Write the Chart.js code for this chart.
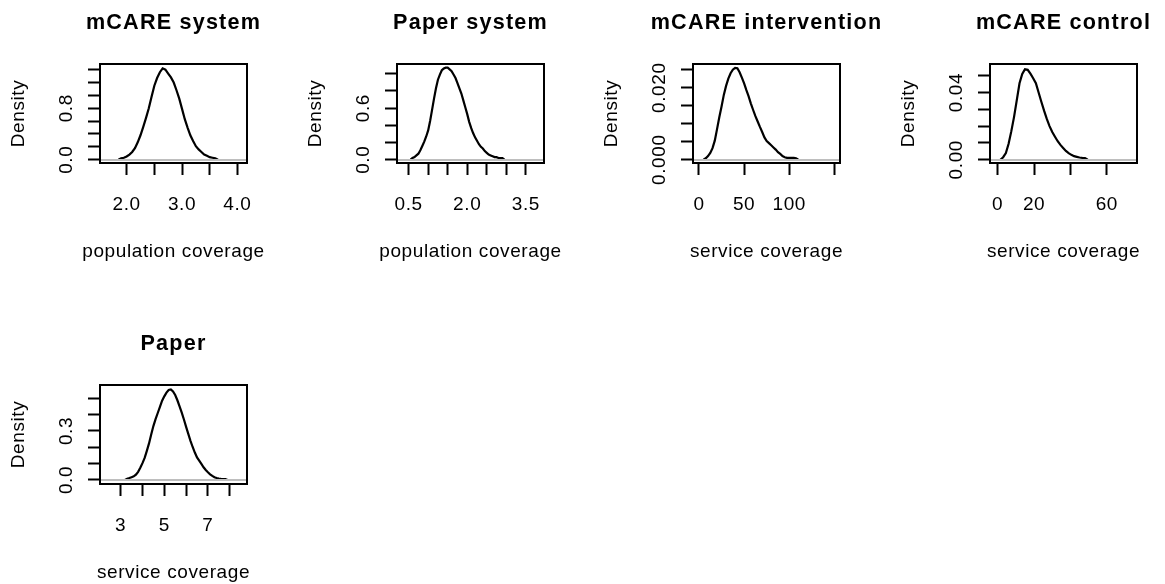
<!DOCTYPE html>
<html>
<head>
<meta charset="utf-8">
<script src="https://cdn.jsdelivr.net/npm/chart.js@4.4.1/dist/chart.umd.min.js"></script>
<style>
  html, body { margin: 0; padding: 0; background: #fff; }
  body { width: 1165px; height: 584px; overflow: hidden; position: relative; }
  .panel { position: absolute; width: 297px; height: 290px; }
</style>
</head>
<body>
<div class="panel" style="left:0px;top:0px"><canvas id="p1"></canvas></div>
<div class="panel" style="left:297px;top:0px"><canvas id="p2"></canvas></div>
<div class="panel" style="left:593px;top:0px"><canvas id="p3"></canvas></div>
<div class="panel" style="left:890px;top:0px"><canvas id="p4"></canvas></div>
<div class="panel" style="left:0px;top:321px"><canvas id="p5"></canvas></div>
<script>
// panel titles and axis titles
const titles = ["mCARE system", "Paper system", "mCARE intervention", "mCARE control", "Paper"];
const xTitles = ["population coverage", "population coverage", "service coverage", "service coverage", "service coverage"];
const yTitle = "Density";

// mCARE system (population coverage)
const sysMcareX = [1.85, 1.90, 1.95, 2.00, 2.05, 2.10, 2.15, 2.20, 2.25, 2.30, 2.35, 2.40, 2.45, 2.50, 2.55, 2.60, 2.65, 2.70, 2.75,
                   2.80, 2.85, 2.90, 2.95, 3.00, 3.05, 3.10, 3.15, 3.20, 3.25, 3.30, 3.35, 3.40, 3.45, 3.50, 3.55, 3.60, 3.65];
const sysMcareY = [0.00, 0.02, 0.03, 0.05, 0.08, 0.12, 0.18, 0.27, 0.38, 0.51, 0.65, 0.80, 0.98, 1.15, 1.27, 1.36, 1.42, 1.40, 1.34,
                   1.28, 1.20, 1.08, 0.95, 0.79, 0.63, 0.50, 0.38, 0.29, 0.21, 0.16, 0.12, 0.08, 0.06, 0.04, 0.03, 0.02, 0.00];

// Paper system (population coverage)
const sysPaperX = [0.55, 0.60, 0.65, 0.70, 0.75, 0.80, 0.85, 0.90, 0.95, 1.00, 1.05, 1.10, 1.15, 1.20, 1.25, 1.30, 1.35,
                   1.40, 1.45, 1.50, 1.55, 1.60, 1.65, 1.70, 1.75, 1.80, 1.85, 1.90, 1.95, 2.00, 2.05, 2.10, 2.15,
                   2.20, 2.25, 2.30, 2.35, 2.40, 2.45, 2.50, 2.55, 2.60, 2.65, 2.70, 2.75, 2.80, 2.85, 2.90, 2.95];
const sysPaperY = [0.00, 0.02, 0.03, 0.05, 0.07, 0.11, 0.16, 0.21, 0.27, 0.34, 0.45, 0.58, 0.71, 0.83, 0.93, 0.99, 1.04,
                   1.06, 1.07, 1.07, 1.05, 1.03, 0.99, 0.95, 0.89, 0.83, 0.77, 0.69, 0.61, 0.53, 0.44, 0.37, 0.31,
                   0.26, 0.22, 0.18, 0.15, 0.13, 0.10, 0.08, 0.06, 0.05, 0.04, 0.03, 0.03, 0.02, 0.02, 0.02, 0.00];

// mCARE intervention (service coverage)
const intMcareX = [5.0, 7.5, 10.0, 12.5, 15.0, 17.5, 20.0, 22.5, 25.0, 27.5, 30.0, 32.5, 35.0, 37.5, 40.0, 42.5, 45.0,
                   47.5, 50.0, 52.5, 55.0, 57.5, 60.0, 62.5, 65.0, 67.5, 70.0, 72.5, 75.0, 77.5, 80.0, 82.5, 85.0,
                   87.5, 90.0, 92.5, 95.0, 97.5, 100.0, 102.5, 105.0, 107.5, 110.0];
const intMcareY = [0.0000, 0.0004, 0.0010, 0.0019, 0.0032, 0.0053, 0.0085, 0.0118, 0.0148, 0.0180, 0.0205, 0.0225, 0.0240,
                   0.0250, 0.0255, 0.0254, 0.0243, 0.0228, 0.0212, 0.0193, 0.0176, 0.0156, 0.0138, 0.0121, 0.0106, 0.0091,
                   0.0077, 0.0062, 0.0052, 0.0046, 0.0040, 0.0034, 0.0028, 0.0021, 0.0016, 0.0010, 0.0007, 0.0005, 0.0005,
                   0.0005, 0.0005, 0.0004, 0.0000];

// mCARE control (service coverage)
const ctlMcareX = [1.5, 3.0, 4.5, 6.0, 7.5, 9.0, 10.5, 12.0, 13.5, 15.0, 16.5, 18.0, 19.5, 21.0, 22.5, 24.0, 25.5,
                   27.0, 28.5, 30.0, 31.5, 33.0, 34.5, 36.0, 37.5, 39.0, 40.5, 42.0, 43.5, 45.0, 46.5, 48.0, 49.5];
const ctlMcareY = [0.0000, 0.0015, 0.0040, 0.0095, 0.0170, 0.0255, 0.0355, 0.0455, 0.0510, 0.0538, 0.0535, 0.0512, 0.0485,
                   0.0455, 0.0400, 0.0345, 0.0292, 0.0243, 0.0200, 0.0165, 0.0137, 0.0110, 0.0088, 0.0070, 0.0052, 0.0039,
                   0.0029, 0.0021, 0.0017, 0.0013, 0.0011, 0.0010, 0.0000];

// Paper (service coverage)
const svcPaperX = [3.2, 3.3, 3.4, 3.5, 3.6, 3.7, 3.8, 3.9, 4.0, 4.1, 4.2, 4.3, 4.4, 4.5, 4.6, 4.7, 4.8, 4.9, 5.0, 5.1,
                   5.2, 5.3, 5.4, 5.5, 5.6, 5.7, 5.8, 5.9, 6.0, 6.1, 6.2, 6.3, 6.4, 6.5, 6.6, 6.7, 6.8, 6.9, 7.0, 7.1,
                   7.2, 7.3, 7.4, 7.5, 7.6, 7.7, 7.8, 7.9];
const svcPaperY = [0.000, 0.008, 0.012, 0.017, 0.022, 0.033, 0.050, 0.075, 0.103, 0.135, 0.178, 0.224, 0.278, 0.330, 0.372,
                   0.410, 0.448, 0.485, 0.512, 0.535, 0.551, 0.554, 0.542, 0.520, 0.488, 0.450, 0.412, 0.370, 0.325, 0.282,
                   0.240, 0.202, 0.168, 0.138, 0.118, 0.098, 0.078, 0.061, 0.047, 0.035, 0.025, 0.017, 0.012, 0.009, 0.007,
                   0.006, 0.006, 0.000];

// axis ticks and the labels R kept (empty = tick without label)
const xTicks = [[2.0, 2.5, 3.0, 3.5, 4.0], [0.5, 1.0, 1.5, 2.0, 2.5, 3.0, 3.5], [0, 50, 100, 150], [0, 20, 40, 60], [3, 4, 5, 6, 7, 8]];
const xTickLabels = [["2.0", "", "3.0", "", "4.0"], ["0.5", "", "", "2.0", "", "", "3.5"], ["0", "50", "100", ""], ["0", "20", "", "60"], ["3", "", "5", "", "7", ""]];
const yTicks = [[0, 0.2, 0.4, 0.6, 0.8, 1.0, 1.2, 1.4], [0, 0.2, 0.4, 0.6, 0.8, 1.0], [0, 0.005, 0.01, 0.015, 0.02, 0.025],
                [0, 0.01, 0.02, 0.03, 0.04, 0.05], [0, 0.1, 0.2, 0.3, 0.4, 0.5]];
const yTickLabels = [["0.0", "", "", "", "0.8", "", "", ""], ["0.0", "", "", "0.6", "", ""], ["0.000", "", "", "", "0.020", ""],
                     ["0.00", "", "", "", "0.04", ""], ["0.0", "", "", "0.3", "", ""]];

// axis ranges
const xRanges = [[1.519, 4.173], [0.2025, 3.965], [-6.63, 156.2], [-4.23, 76.6], [2.053, 8.791]];
const yRanges = [[-0.0513, 1.488], [-0.0384, 1.113], [-0.000917, 0.02658], [-0.00196, 0.05696], [-0.0245, 0.5814]];

const seriesX = [sysMcareX, sysPaperX, intMcareX, ctlMcareX, svcPaperX];
const seriesY = [sysMcareY, sysPaperY, intMcareY, ctlMcareY, svcPaperY];

const FONT = '"Liberation Sans", Arial, Helvetica, sans-serif';

// R base graphics look: box, grey zero line, title, rotated y labels
const rBase = {
    id: 'rBase',
    afterDatasetsDraw(chart){
        const ctx = chart.ctx;
        const a = chart.chartArea;
        const x = chart.scales.x;
        const y = chart.scales.y;
        const p = chart.options.plugins.rBase;

        ctx.save();
        const y0 = Math.round(y.getPixelForValue(0));
        ctx.strokeStyle = '#bebebe';
        ctx.lineWidth = 2;
        ctx.beginPath();
        ctx.moveTo(a.left, y0);
        ctx.lineTo(a.right, y0);
        ctx.stroke();

        ctx.strokeStyle = '#000';
        ctx.lineWidth = 2;
        ctx.strokeRect(Math.round(a.left), Math.round(a.top), Math.round(a.right - a.left), Math.round(a.bottom - a.top));

        ctx.fillStyle = '#000';
        ctx.textAlign = 'center';
        ctx.textBaseline = 'alphabetic';
        const cx = (a.left + a.right) / 2;
        const cy = (a.top + a.bottom) / 2;

        ctx.letterSpacing = '1.2px';
        ctx.font = 'bold 21.6px ' + FONT;
        ctx.fillText(p.title, cx, a.top - 35.5);

        ctx.letterSpacing = '0.6px';
        ctx.font = '19px ' + FONT;
        x.ticks.forEach(function(t, i){
            const lab = p.xLabels[i];
            if(lab){
                ctx.fillText(lab, x.getPixelForValue(t.value), a.bottom + 47);
            };
        });
        ctx.fillText(p.xTitle, cx, a.bottom + 94);

        y.ticks.forEach(function(t, i){
            const lab = p.yLabels[i];
            if(lab){
                ctx.save();
                ctx.translate(a.left - 28.3, y.getPixelForValue(t.value));
                ctx.rotate(-Math.PI / 2);
                ctx.fillText(lab, 0, 0);
                ctx.restore();
            };
        });

        ctx.save();
        ctx.translate(a.left - 76.5, cy);
        ctx.rotate(-Math.PI / 2);
        ctx.fillText(yTitle, 0, 0);
        ctx.restore();

        ctx.restore();
    }
};

function buildPanel(i){

    const points = seriesX[i].map((v, k) => ({x: v, y: seriesY[i][k]}));
    const tickStyle = {
        display: true,
        drawOnChartArea: false,
        drawTicks: true,
        tickLength: 12,
        tickColor: '#000',
        tickWidth: 2
    };

    new Chart(document.getElementById('p' + (i + 1)), {
        type: 'line',
        data: {
            datasets: [{
                data: points,
                borderColor: '#000',
                borderWidth: 2.2,
                pointRadius: 0,
                tension: 0,
                fill: false
            }]
        },
        options: {
            responsive: true,
            maintainAspectRatio: false,
            animation: false,
            layout: {
                padding: {left: 0, right: 50, top: 64, bottom: 0}
            },
            scales: {
                x: {
                    type: 'linear',
                    min: xRanges[i][0],
                    max: xRanges[i][1],
                    afterBuildTicks: function(scale){ scale.ticks = xTicks[i].map(v => ({value: v})); },
                    afterFit: function(scale){ scale.height = 127; },
                    ticks: {display: false},
                    grid: tickStyle,
                    border: {display: false}
                },
                y: {
                    type: 'linear',
                    min: yRanges[i][0],
                    max: yRanges[i][1],
                    afterBuildTicks: function(scale){ scale.ticks = yTicks[i].map(v => ({value: v})); },
                    afterFit: function(scale){ scale.width = 100; },
                    ticks: {display: false},
                    grid: tickStyle,
                    border: {display: false}
                }
            },
            plugins: {
                legend: {display: false},
                tooltip: {enabled: false},
                rBase: {
                    title: titles[i],
                    xTitle: xTitles[i],
                    xLabels: xTickLabels[i],
                    yLabels: yTickLabels[i]
                }
            }
        },
        plugins: [rBase]
    });
};

for(let i = 0; i < 5; i++){
    buildPanel(i);
};
</script>
</body>
</html>
